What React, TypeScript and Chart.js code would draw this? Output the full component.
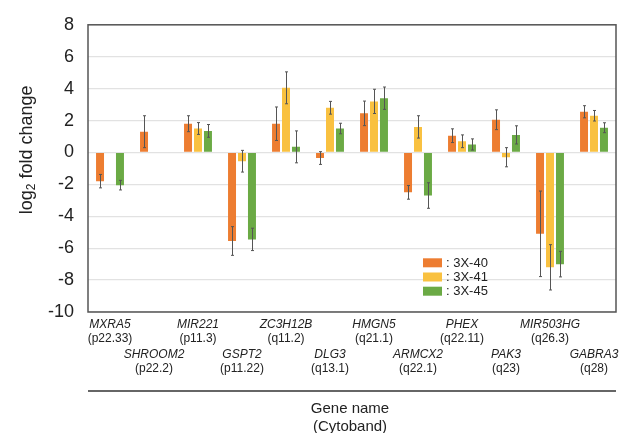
import React, { useEffect, useRef } from "react";
import { Chart, registerables } from "chart.js";

Chart.register(...registerables);

const categories = ["MXRA5", "SHROOM2", "MIR221", "GSPT2", "ZC3H12B", "DLG3", "HMGN5", "ARMCX2", "PHEX", "PAK3", "MIR503HG", "GABRA3"];
const cytobands = ["p22.33", "p22.2", "p11.3", "p11.22", "q11.2", "q13.1", "q21.1", "q22.1", "q22.11", "q23", "q26.3", "q28"];

const seriesNames = ["3X-40", "3X-41", "3X-45"];
const values40 = [-1.8, 1.3, 1.8, -5.55, 1.8, -0.35, 2.45, -2.5, 1.05, 2.05, -5.1, 2.55];
const errors40 = [0.42, 1.0, 0.5, 0.9, 1.05, 0.4, 0.77, 0.43, 0.43, 0.62, 2.68, 0.38];
const values41 = [null, null, 1.5, -0.55, 4.05, 2.8, 3.2, 1.6, 0.7, -0.3, -7.2, 2.3];
const errors41 = [0, 0, 0.37, 0.68, 1.0, 0.4, 0.76, 0.7, 0.4, 0.6, 1.42, 0.33];
const values45 = [-2.05, null, 1.35, -5.45, 0.35, 1.5, 3.4, -2.7, 0.5, 1.1, -7.0, 1.55];
const errors45 = [0.3, 0, 0.4, 0.7, 1.0, 0.33, 0.7, 0.8, 0.35, 0.57, 0.8, 0.31];

const colors = ["#ED7D31", "#F9C140", "#6BAA45"];
const FONT = "'Liberation Sans', Arial, Helvetica, sans-serif";

const allErrors = [errors40, errors41, errors45];

const overlayPlugin = {
  id: "overlay",
  afterDatasetsDraw(chart: any) {
    const ctx = chart.ctx;
    const ys = chart.scales.y;
    ctx.save();
    ctx.strokeStyle = "#555";
    ctx.lineWidth = 1;
    chart.data.datasets.forEach((ds: any, di: number) => {
      const meta = chart.getDatasetMeta(di);
      meta.data.forEach((el: any, i: number) => {
        const v = ds.data[i];
        if (v === null || v === undefined) return;
        const e = allErrors[di][i];
        if (!e) return;
        const x = Math.round(el.x) + 0.5;
        const y1 = ys.getPixelForValue(v + e);
        const y2 = ys.getPixelForValue(v - e);
        ctx.beginPath();
        ctx.moveTo(x, y1);
        ctx.lineTo(x, y2);
        ctx.moveTo(x - 1.5, y1);
        ctx.lineTo(x + 1.5, y1);
        ctx.moveTo(x - 1.5, y2);
        ctx.lineTo(x + 1.5, y2);
        ctx.stroke();
      });
    });
    ctx.restore();
  },
  afterDraw(chart: any) {
    const ctx = chart.ctx;
    const { left, right, top, bottom } = chart.chartArea;
    const xs = chart.scales.x;
    ctx.save();
    // plot border
    ctx.strokeStyle = "#555";
    ctx.lineWidth = 1.5;
    ctx.strokeRect(left, top, right - left, bottom - top);

    // category labels (staggered)
    ctx.fillStyle = "#222";
    ctx.textAlign = "center";
    ctx.textBaseline = "middle";
    categories.forEach((c, i) => {
      const x = xs.getPixelForValue(i);
      const row = i % 2;
      const y = bottom + 13 + row * 30;
      ctx.font = `italic 12px ${FONT}`;
      ctx.fillText(c, x, y);
      ctx.font = `12px ${FONT}`;
      ctx.fillText("(" + cytobands[i] + ")", x, y + 14);
    });

    // separator line
    ctx.strokeStyle = "#333";
    ctx.lineWidth = 1.5;
    ctx.beginPath();
    ctx.moveTo(left, bottom + 79);
    ctx.lineTo(right, bottom + 79);
    ctx.stroke();

    // x title
    ctx.font = `15px ${FONT}`;
    ctx.fillStyle = "#222";
    const cx = (left + right) / 2;
    ctx.fillText("Gene name", cx - 2, bottom + 97);
    ctx.fillText("(Cytoband)", cx - 2, bottom + 115);

    // y title
    ctx.save();
    ctx.translate(27, top + 125);
    ctx.rotate(-Math.PI / 2);
    ctx.textAlign = "left";
    ctx.textBaseline = "middle";
    const p1 = "log";
    const p3 = " fold change";
    ctx.font = `18px ${FONT}`;
    const w1 = ctx.measureText(p1).width;
    const w3 = ctx.measureText(p3).width;
    ctx.font = `12px ${FONT}`;
    const w2 = ctx.measureText("2").width;
    const total = w1 + w2 + w3;
    const x0 = -total / 2;
    ctx.font = `18px ${FONT}`;
    ctx.fillText(p1, x0, 0);
    ctx.font = `12px ${FONT}`;
    ctx.fillText("2", x0 + w1, 5);
    ctx.font = `18px ${FONT}`;
    ctx.fillText(p3, x0 + w1 + w2, 0);
    ctx.restore();

    // legend
    const lx = left + 335;
    const ly = top + 238;
    seriesNames.forEach((n, i) => {
      const y = ly + i * 14.2;
      ctx.fillStyle = colors[i];
      ctx.fillRect(lx, y - 4.5, 19, 9);
      ctx.fillStyle = "#222";
      ctx.font = `13px ${FONT}`;
      ctx.textAlign = "left";
      ctx.textBaseline = "middle";
      ctx.fillText(": " + n, lx + 23, y + 0.5);
    });
    ctx.restore();
  },
};

export default function App() {
  const ref = useRef<HTMLCanvasElement>(null);
  useEffect(() => {
    document.body.style.margin = "0";
    const canvas = ref.current;
    if (!canvas) return;
    const chart = new Chart(canvas, {
      type: "bar",
      data: {
        labels: categories,
        datasets: [
          { label: seriesNames[0], data: values40, backgroundColor: colors[0] },
          { label: seriesNames[1], data: values41, backgroundColor: colors[1] },
          { label: seriesNames[2], data: values45, backgroundColor: colors[2] },
        ],
      },
      options: {
        responsive: false,
        animation: false,
        devicePixelRatio: 1,
        layout: { padding: { top: 20, right: 3, bottom: 121, left: 0 } },
        datasets: { bar: { categoryPercentage: 0.68, barPercentage: 0.8 } },
        plugins: { legend: { display: false }, tooltip: { enabled: false } },
        scales: {
          x: {
            ticks: { display: false },
            grid: { display: false, drawTicks: false },
            border: { display: false },
            afterFit: (s: any) => { s.height = 0; },
          },
          y: {
            min: -10,
            max: 8,
            ticks: {
              stepSize: 2,
              padding: 14,
              color: "#222",
              font: { size: 18, family: FONT },
            },
            grid: { color: "#e2e2e2", lineWidth: 1.2, drawTicks: false },
            border: { display: false },
            afterFit: (s: any) => { s.width = 88; },
          },
        },
      },
      plugins: [overlayPlugin],
    });
    return () => chart.destroy();
  }, []);
  return <canvas ref={ref} width={619} height={433} style={{ display: "block", width: 619, height: 433 }} />;
}
